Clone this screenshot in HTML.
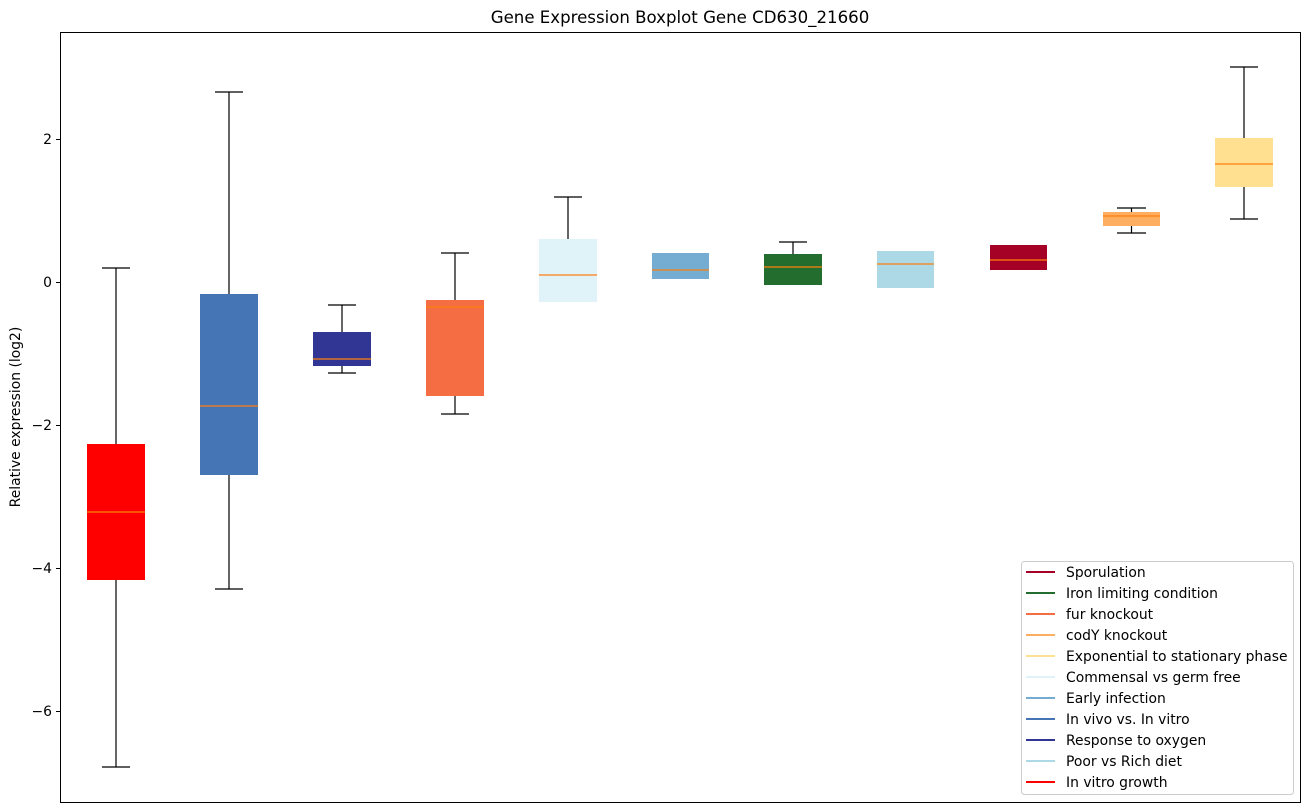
<!DOCTYPE html>
<html><head><meta charset="utf-8"><style>body{margin:0;background:#fff}svg{display:block}text{font-family:"DejaVu Sans","Liberation Sans",sans-serif}</style></head>
<body>
<svg width="1309" height="812" viewBox="0 0 1309 812" xmlns="http://www.w3.org/2000/svg">
<rect width="1309" height="812" fill="#fff"/>
<text x="680" y="23" font-size="16.6" text-anchor="middle" fill="#000">Gene Expression Boxplot Gene CD630_21660</text>
<text transform="translate(20,417) rotate(-90)" font-size="13.9" text-anchor="middle">Relative expression (log2)</text>
<g stroke="#000" stroke-width="1">
<line x1="56" y1="139.5" x2="60.5" y2="139.5"/><line x1="56" y1="282.5" x2="60.5" y2="282.5"/><line x1="56" y1="425.5" x2="60.5" y2="425.5"/><line x1="56" y1="568.5" x2="60.5" y2="568.5"/><line x1="56" y1="711.5" x2="60.5" y2="711.5"/>
</g>
<g font-size="13.9" text-anchor="end">
<text x="52" y="144">2</text><text x="52" y="287">0</text><text x="52" y="430">−2</text><text x="52" y="573">−4</text><text x="52" y="716">−6</text>
</g>
<g stroke="#000" stroke-width="1.2" fill="none">
<line x1="116" y1="268" x2="116" y2="444"/><line x1="116" y1="580" x2="116" y2="767"/><line x1="102" y1="268" x2="130" y2="268"/><line x1="102" y1="767" x2="130" y2="767"/>
<line x1="229" y1="92" x2="229" y2="294"/><line x1="229" y1="475" x2="229" y2="589"/><line x1="215" y1="92" x2="243" y2="92"/><line x1="215" y1="589" x2="243" y2="589"/>
<line x1="342" y1="305" x2="342" y2="332"/><line x1="342" y1="366" x2="342" y2="373"/><line x1="328" y1="305" x2="356" y2="305"/><line x1="328" y1="373" x2="356" y2="373"/>
<line x1="455" y1="253" x2="455" y2="300"/><line x1="455" y1="396" x2="455" y2="414"/><line x1="441" y1="253" x2="469" y2="253"/><line x1="441" y1="414" x2="469" y2="414"/>
<line x1="568" y1="197" x2="568" y2="239"/><line x1="554" y1="197" x2="582" y2="197"/>
<line x1="793" y1="242" x2="793" y2="254"/><line x1="779" y1="242" x2="807" y2="242"/>
<line x1="1131.5" y1="208" x2="1131.5" y2="212"/><line x1="1131.5" y1="226" x2="1131.5" y2="233"/><line x1="1117" y1="208" x2="1146" y2="208"/><line x1="1117" y1="233" x2="1146" y2="233"/>
<line x1="1244" y1="67" x2="1244" y2="138"/><line x1="1244" y1="187" x2="1244" y2="219"/><line x1="1230" y1="67" x2="1258" y2="67"/><line x1="1230" y1="219" x2="1258" y2="219"/>
</g>
<rect x="87" y="444" width="58" height="136" fill="#ff0000"/>
<rect x="200" y="294" width="58" height="181" fill="#4575b4"/>
<rect x="313" y="332" width="58" height="34" fill="#313695"/>
<rect x="426" y="300" width="58" height="96" fill="#f46d43"/>
<rect x="539" y="239" width="58" height="63" fill="#e0f3f8"/>
<rect x="652" y="253" width="57" height="26" fill="#74add1"/>
<rect x="764" y="254" width="58" height="31" fill="#236e2e"/>
<rect x="877" y="251" width="57" height="37" fill="#add8e6"/>
<rect x="990" y="245" width="57" height="25" fill="#a50026"/>
<rect x="1103" y="212" width="57" height="14" fill="#fdae61"/>
<rect x="1215" y="138" width="58" height="49" fill="#fee090"/>
<g stroke="#ff7f0e" stroke-width="1.2">
<line x1="87" y1="512" x2="145" y2="512"/>
<line x1="200" y1="406" x2="258" y2="406"/>
<line x1="313" y1="359" x2="371" y2="359"/>
<line x1="426" y1="307" x2="484" y2="307"/>
<line x1="539" y1="275" x2="597" y2="275"/>
<line x1="652" y1="270" x2="709" y2="270"/>
<line x1="764" y1="267" x2="822" y2="267"/>
<line x1="877" y1="264" x2="934" y2="264"/>
<line x1="990" y1="260" x2="1047" y2="260"/>
<line x1="1103" y1="216" x2="1160" y2="216"/>
<line x1="1215" y1="164" x2="1273" y2="164"/>
</g>
<rect x="60.5" y="32.5" width="1240" height="770" fill="none" stroke="#000" stroke-width="1"/>
<rect x="1021.5" y="561.5" width="272" height="233" rx="3" fill="#fff" fill-opacity="0.8" stroke="#ccc"/>
<g stroke-width="2">
<line x1="1026" y1="572" x2="1055" y2="572" stroke="#a50026"/>
<line x1="1026" y1="593" x2="1055" y2="593" stroke="#236e2e"/>
<line x1="1026" y1="614" x2="1055" y2="614" stroke="#f46d43"/>
<line x1="1026" y1="635" x2="1055" y2="635" stroke="#fdae61"/>
<line x1="1026" y1="656" x2="1055" y2="656" stroke="#fee090"/>
<line x1="1026" y1="677" x2="1055" y2="677" stroke="#e0f3f8"/>
<line x1="1026" y1="698" x2="1055" y2="698" stroke="#74add1"/>
<line x1="1026" y1="719" x2="1055" y2="719" stroke="#4575b4"/>
<line x1="1026" y1="740" x2="1055" y2="740" stroke="#313695"/>
<line x1="1026" y1="761" x2="1055" y2="761" stroke="#add8e6"/>
<line x1="1026" y1="782" x2="1055" y2="782" stroke="#ff0000"/>
</g>
<g font-size="13.9" fill="#000">
<text x="1066" y="577">Sporulation</text>
<text x="1066" y="598">Iron limiting condition</text>
<text x="1066" y="619">fur knockout</text>
<text x="1066" y="640">codY knockout</text>
<text x="1066" y="661">Exponential to stationary phase</text>
<text x="1066" y="682">Commensal vs germ free</text>
<text x="1066" y="703">Early infection</text>
<text x="1066" y="724">In vivo vs. In vitro</text>
<text x="1066" y="745">Response to oxygen</text>
<text x="1066" y="766">Poor vs Rich diet</text>
<text x="1066" y="787">In vitro growth</text>
</g>
</svg>
</body></html>
